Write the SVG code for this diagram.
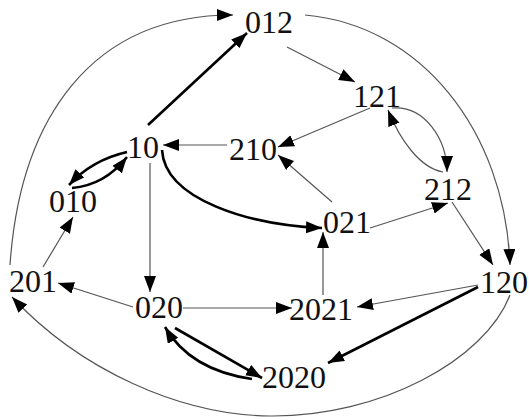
<svg xmlns="http://www.w3.org/2000/svg" width="529" height="420" viewBox="0 0 529 420">
<style>
text{font-family:'Liberation Serif','DejaVu Serif',serif;font-size:32px;fill:#111;text-anchor:middle}
.e{fill:none;stroke:#555;stroke-width:1.2;marker-end:url(#a)}
.k{fill:none;stroke:#000;stroke-width:2.6;marker-end:url(#a)}
</style>
<defs>
<marker id="a" markerUnits="userSpaceOnUse" markerWidth="18" markerHeight="14" refX="16" refY="6" orient="auto">
<path d="M0,0 L16,6 L0,12 z" fill="#000"/>
</marker>
</defs>
<rect width="529" height="420" fill="#fff"/>
<g id="connectors">
<path class="e" d="M10,265 C20,120 90,15 233,15"/>
<path class="k" d="M148,125 L247,33"/>
<path class="e" d="M287,47 L355,82"/>
<path class="e" d="M305,15 C420,25 505,130 510,265"/>
<path class="e" d="M370,108 L278,147"/>
<path class="e" d="M392,108 C425,105 447,140 447,172"/>
<path class="e" d="M443,172 C420,168 400,140 388,110"/>
<path class="e" d="M227,145 L163,145"/>
<path class="k" d="M127,152 Q92,160 69,185"/>
<path class="k" d="M72,188 Q105,185 127,157"/>
<path class="k" d="M162,150 C165,200 250,225 322,228"/>
<path class="e" d="M332,202 L278,155"/>
<path class="e" d="M370,228 L448,203"/>
<path class="e" d="M452,202 L493,265"/>
<path class="e" d="M150,163 L150,292"/>
<path class="e" d="M133,307 L58,283"/>
<path class="e" d="M183,308 L292,308"/>
<path class="e" d="M323,295 L323,232"/>
<path class="e" d="M478,285 L357,307"/>
<path class="k" d="M478,287 L328,363"/>
<path class="k" d="M175,328 L262,378"/>
<path class="k" d="M252,379 Q190,370 165,327"/>
<path class="e" d="M510,295 C485,360 380,417 270,416 C180,415 80,370 12,297"/>
<path class="e" d="M43,267 L73,217"/>
</g>
<g id="n012"><text x="269" y="33">012</text></g>
<g id="n121"><text x="377" y="107">121</text></g>
<g id="n10"><text x="143" y="158">10</text></g>
<g id="n210"><text x="253" y="160">210</text></g>
<g id="n010"><text x="73" y="212">010</text></g>
<g id="n212"><text x="448" y="200">212</text></g>
<g id="n021"><text x="347" y="233">021</text></g>
<g id="n201"><text x="33" y="292">201</text></g>
<g id="n120"><text x="504" y="293">120</text></g>
<g id="n020"><text x="159" y="318">020</text></g>
<g id="n2021"><text x="321" y="320">2021</text></g>
<g id="n2020"><text x="294" y="388">2020</text></g>
</svg>
